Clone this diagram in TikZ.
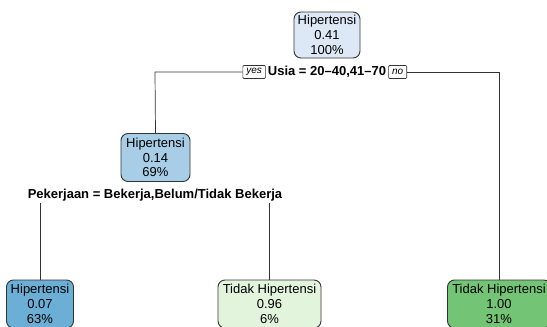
\documentclass[tikz,border=0pt]{standalone}
\usepackage{fontspec}
\setmainfont{Liberation Sans}
\definecolor{rootc}{HTML}{DCE8F5}
\definecolor{midc}{HTML}{A8CDE6}
\definecolor{leafa}{HTML}{6BAED6}
\definecolor{leafb}{HTML}{E3F4DD}
\definecolor{leafc}{HTML}{74C476}
\definecolor{edgec}{HTML}{333333}
\begin{document}
\begin{tikzpicture}[x=1pt,y=-1pt,
  treenode/.style={draw=edgec, line width=0.9pt, rounded corners=7pt, align=center,
    font=\fontsize{13}{14.8}\selectfont, inner sep=2pt, minimum height=46pt},
  splitlab/.style={font=\bfseries\fontsize{13}{14}\selectfont, inner sep=1pt},
  yn/.style={draw=edgec, line width=0.6pt, rounded corners=1pt, font=\itshape\fontsize{10}{11}\selectfont, inner xsep=3.5pt, inner ysep=1.5pt, minimum height=13pt, fill=white},
  conn/.style={draw=edgec, line width=0.7pt}]
\useasboundingbox (0,0) rectangle (547,327);
\node[treenode, fill=rootc, minimum width=66pt] (root) at (327,35) {Hipertensi\\0.41\\100\%};
\node[splitlab] (s1) at (327,72) {Usia = 20--40,41--70};
\node[yn, anchor=east] (yes) at ([xshift=-1pt]s1.west) {yes};
\node[yn, anchor=west] (no) at ([xshift=1pt]s1.east) {no};
\node[treenode, fill=midc, minimum width=69pt, minimum height=48pt] (n2) at (155.5,157.5) {Hipertensi\\0.14\\69\%};
\node[splitlab] (s2) at (155,195) {Pekerjaan = Bekerja,Belum/Tidak Bekerja};
\node[treenode, fill=leafa, minimum width=67pt, minimum height=48pt] (l1) at (40,304) {Hipertensi\\0.07\\63\%};
\node[treenode, fill=leafb, minimum width=103pt, minimum height=48pt] (l2) at (269.5,304) {Tidak Hipertensi\\0.96\\6\%};
\node[treenode, fill=leafc, minimum width=103pt, minimum height=48pt] (l3) at (499,304) {Tidak Hipertensi\\1.00\\31\%};
\coordinate (cl) at (155,72);
\coordinate (cr) at (499,72);
\coordinate (pl) at (40,203);
\coordinate (pr) at (269.5,203);
\draw[conn] (yes.west) -- (cl) -- (n2.north);
\draw[conn] (no.east) -- (cr) -- (l3.north);
\draw[conn] (pl) -- (l1.north);
\draw[conn] (pr) -- (l2.north);
\end{tikzpicture}
\end{document}
